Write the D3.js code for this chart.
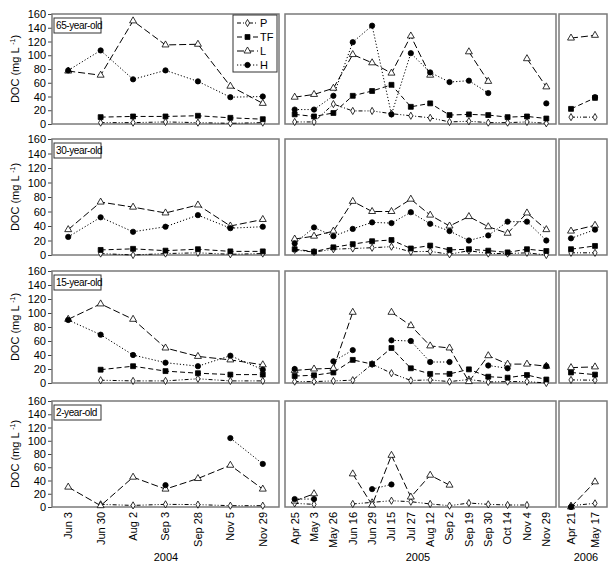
<!DOCTYPE html>
<html><head><meta charset="utf-8">
<script src="https://cdn.jsdelivr.net/npm/d3@7"></script>
<style>body{margin:0;background:#fff}svg{display:block;font-family:"Liberation Sans",Arial,sans-serif}</style>
</head><body><svg id="c" width="614" height="567"></svg>
<script>
// ---- data ----
const years = ["2004", "2005", "2006"];
const dates2004 = ["Jun 3", "Jun 30", "Aug 2", "Sep 3", "Sep 28", "Nov 5", "Nov 29"];
const dates2005 = ["Apr 25", "May 3", "May 26", "Jun 16", "Jun 29", "Jul 15", "Jul 27", "Aug 12", "Sep 2", "Sep 19", "Sep 30", "Oct 14", "Nov 4", "Nov 29"];
const dates2006 = ["Apr 21", "May 17"];
const stands = ["65-year-old", "30-year-old", "15-year-old", "2-year-old"];
const seriesNames = ["P", "TF", "L", "H"];
const yTicks = [0, 20, 40, 60, 80, 100, 120, 140, 160];

// values: 7 (2004) + 14 (2005) + 2 (2006)
const P_65 = [null,2,2,3,2,1,2, 3,3,29,19,19,15,12,9,3,4,2,2,3,1, 10,10];
const TF_65 = [null,10,11,11,12,9,7, 14,11,16,41,48,57,25,30,13,14,13,10,11,8, 22,38];
const L_65 = [77,71,150,115,116,55,30, 39,43,52,101,89,74,128,71,null,105,62,null,95,54, 125,129];
const H_65 = [78,107,65,78,62,39,40, 21,21,41,119,143,14,103,75,61,63,45,null,null,30, null,39];

const P_30 = [null,2,0,2,3,1,2, 7,4,8,9,10,11.5,4.5,5,1,6,2,2,3,0, 3,3];
const TF_30 = [null,7,8.5,6,8,5,5, 8,4.6,10.6,15,19,20.7,9,13,7,8,6,3.6,8,5.5, 8,12.5];
const L_30 = [35,73,66,58,69,40,49, 22,26,33,74,60,60,77,55,40,53,39,30,58,35, 33,41];
const H_30 = [25,52,32,39,55,37,39, 16,38,26,36,45,44,59,43,33,20,27,46,46,20, 23,35];

const P_15 = [null,4,3,3,6,3,3, 2,2,3,4,27,14,3.6,4.4,2,5,1.5,2,2,0, 4.4,4];
const TF_15 = [null,19,24,17,14,12,12, 10,11,15,33,27,50,21,13,13,19.5,9,7.6,11.4,5, 15,12];
const L_15 = [91,113,91,50,38,33,26, 18,20,21,101,null,101,82,53,50,2,39,27,27,24, 22,23];
const H_15 = [90,69,40,29,24,39,19, 20,null,31,47,null,61,60,30,30,null,25,21,null,24, null,null];

const P_2 = [null,4,2.4,4,3.6,2,2, 5.5,4,null,4.6,7,9.5,8,4.6,2,6,4,3,3,null, 2,5.5];
const TF_2 = [null,null,null,null,null,null,null, null,null,null,null,null,null,null,null,null,null,null,null,null,null, null,null];
const L_2 = [30,2,45,27,43,63,27, 9,20,null,50,3,78,15,48,33,null,null,null,null,null, 0,38];
const H_2 = [null,null,null,33,null,104,65, 12,12,null,null,27,34,null,null,null,null,null,null,null,null, 0,null];

const panelData = [
  [P_65, TF_65, L_65, H_65],
  [P_30, TF_30, L_30, H_30],
  [P_15, TF_15, L_15, H_15],
  [P_2, TF_2, L_2, H_2]
];

// ---- layout ----
const svg = d3.select("#c");
const rows = [[14,124],[139,255],[271,383],[401,507]];
const groups = [
  {dates: dates2004, x0: 52, x1: 279, off: 0},
  {dates: dates2005, x0: 285, x1: 556, off: 7},
  {dates: dates2006, x0: 559, x1: 607, off: 21}
];
const styles = {
  P:  {dash: "4,2,1,2,1,2", sym: d3.symbolDiamond, size: 15, fill: "#fff"},
  TF: {dash: "5,3", sym: d3.symbolSquare, size: 24, fill: "#000"},
  L:  {dash: "7,3", sym: d3.symbolTriangle, size: 21, fill: "#fff"},
  H:  {dash: "1.2,2", sym: d3.symbolCircle, size: 22, fill: "#000"}
};
const xScales = groups.map(g => d3.scalePoint().domain(g.dates).range([g.x0, g.x1]).padding(0.5));

rows.forEach((r, pi) => {
  const y = d3.scaleLinear().domain([0, 160]).range([r[1], r[0]]);
  // y axis
  const ax = svg.append("g").attr("transform", `translate(${groups[0].x0},0)`)
    .call(d3.axisLeft(y).tickValues(yTicks).tickSize(4).tickPadding(2));
  ax.select(".domain").remove();
  ax.selectAll("text").attr("font-size", 11).attr("fill", "#000").attr("font-family", "Liberation Sans, Arial");
  ax.selectAll("line").attr("stroke", "#444");
  // y title
  const t = svg.append("text").attr("transform", `translate(19,${(r[0]+r[1])/2}) rotate(-90)`)
    .attr("text-anchor", "middle").attr("font-size", 11);
  t.append("tspan").text("DOC (mg L ");
  t.append("tspan").attr("font-size", 7).attr("dy", -4).text("-1");
  t.append("tspan").attr("dy", 4).text(")");

  groups.forEach((g, gi) => {
    const x = xScales[gi];
    svg.append("rect").attr("x", g.x0).attr("y", r[0]).attr("width", g.x1 - g.x0).attr("height", r[1] - r[0])
      .attr("fill", "none").attr("stroke", "#7a7a7a").attr("stroke-width", 1.5);
    seriesNames.forEach((s, si) => {
      const vals = panelData[pi][si].slice(g.off, g.off + g.dates.length);
      const pts = g.dates.map((d, i) => ({d, v: vals[i]}));
      const line = d3.line().defined(p => p.v != null).x(p => x(p.d)).y(p => y(p.v));
      svg.append("path").attr("d", line(pts)).attr("fill", "none").attr("stroke", "#000")
        .attr("stroke-width", 1).attr("stroke-dasharray", styles[s].dash);
    });
    seriesNames.forEach((s, si) => {
      const vals = panelData[pi][si].slice(g.off, g.off + g.dates.length);
      const pts = g.dates.map((d, i) => ({d, v: vals[i]})).filter(p => p.v != null);
      svg.selectAll(null).data(pts).enter().append("path")
        .attr("d", d3.symbol().type(styles[s].sym).size(styles[s].size))
        .attr("transform", p => `translate(${x(p.d)},${y(p.v)})`)
        .attr("fill", styles[s].fill).attr("stroke", "#000").attr("stroke-width", 0.8);
    });
  });

  // stand label
  const lb = svg.append("g").attr("transform", `translate(${groups[0].x0 + 2},${r[0] + 4})`);
  lb.append("rect").attr("width", 47).attr("height", 15).attr("fill", "#fff").attr("stroke", "#333").attr("stroke-width", 1);
  lb.append("text").attr("x", 2).attr("y", 11).attr("font-size", 10).attr("letter-spacing", -0.4).text(stands[pi]);
});

// legend
const lg = svg.append("g");
lg.append("rect").attr("x", 233).attr("y", 15).attr("width", 44).attr("height", 57)
  .attr("fill", "#fff").attr("stroke", "#333").attr("stroke-width", 1);
seriesNames.forEach((s, i) => {
  const yy = 23 + i * 14;
  lg.append("line").attr("x1", 237).attr("x2", 258).attr("y1", yy).attr("y2", yy)
    .attr("stroke", "#000").attr("stroke-dasharray", styles[s].dash);
  lg.append("path").attr("d", d3.symbol().type(styles[s].sym).size(styles[s].size)())
    .attr("transform", `translate(247.5,${yy})`).attr("fill", styles[s].fill).attr("stroke", "#000").attr("stroke-width", 0.8);
  lg.append("text").attr("x", 260).attr("y", yy + 4).attr("font-size", 11).text(s);
});

// x tick labels
groups.forEach((g, gi) => {
  const x = xScales[gi];
  svg.selectAll(null).data(g.dates).enter().append("text")
    .attr("transform", d => `translate(${x(d)},512) rotate(-90)`)
    .attr("text-anchor", "end").attr("dy", "0.35em").attr("font-size", 11).text(d => d);
});
// year labels
const yearX = [166, 418, 586];
years.forEach((yr, i) => {
  svg.append("text").attr("x", yearX[i]).attr("y", 561).attr("text-anchor", "middle").attr("font-size", 11).text(yr);
});
</script></body></html>
